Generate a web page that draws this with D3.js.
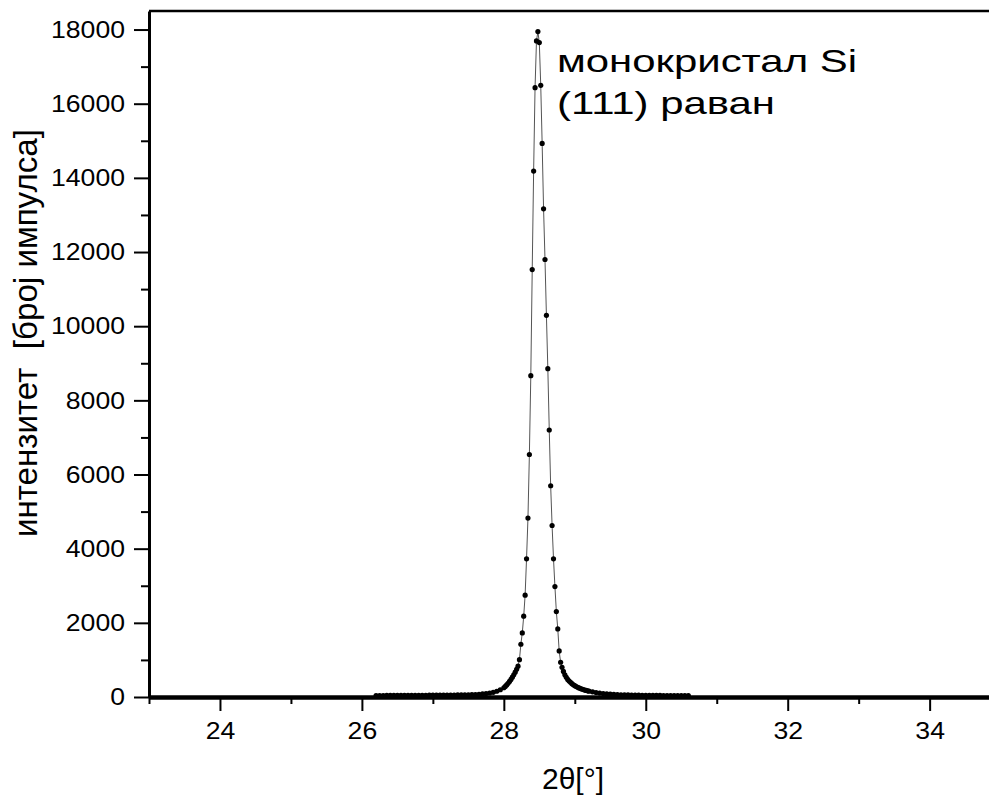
<!DOCTYPE html>
<html>
<head>
<meta charset="utf-8">
<script src="https://cdn.jsdelivr.net/npm/d3@7"></script>
<style>
  body { margin: 0; background: #fff; }
  svg { display: block; font-family: "Liberation Sans", Arial, sans-serif; }
</style>
</head>
<body>
<svg id="chart"></svg>
<script>
// Chart data
const leftTheta = [26.20, 26.25, 26.30, 26.35, 26.40, 26.45, 26.50, 26.55, 26.60, 26.65,
                   26.70, 26.75, 26.80, 26.85, 26.90, 26.95, 27.00, 27.05, 27.10, 27.15,
                   27.20, 27.25, 27.30, 27.35, 27.40, 27.45, 27.50, 27.55, 27.60, 27.65,
                   27.70, 27.75, 27.80, 27.85, 27.90, 27.95];
const leftCounts = [40, 41, 41, 42, 42, 43, 43, 44, 44, 45,
                    45, 46, 46, 47, 47, 48, 48, 49, 50, 51,
                    52, 53, 54, 55, 56, 58, 60, 63, 67, 74,
                    82, 95, 108, 127, 155, 195];

const peakTheta = [28.00, 28.02, 28.04, 28.06, 28.08, 28.10, 28.12, 28.14, 28.16, 28.18,
                   28.20, 28.22, 28.24, 28.26, 28.28, 28.30, 28.32, 28.34, 28.36, 28.38,
                   28.40, 28.42, 28.44, 28.46, 28.48, 28.50, 28.52, 28.54, 28.56, 28.58,
                   28.60, 28.62, 28.64, 28.66, 28.68, 28.70, 28.72, 28.74, 28.76, 28.78,
                   28.80, 28.82, 28.84, 28.86, 28.88, 28.90, 28.92, 28.94, 28.96, 28.98,
                   29.00, 29.02, 29.04, 29.06, 29.08, 29.10, 29.12, 29.14, 29.16, 29.18,
                   29.20];
const peakCounts = [250, 285, 325, 370, 420, 475, 535, 600, 670, 745,
                    830, 1007, 1423, 1728, 2179, 2746, 3726, 4824, 6540, 8666,
                    11528, 14182, 16433, 17692, 17945, 17648, 16495, 14930, 13166, 11798,
                    10294, 8855, 7200, 5697, 4625, 3726, 2978, 2303, 1836, 1242,
                    937, 800, 690, 600, 530, 475, 430, 395, 360, 330,
                    305, 283, 262, 244, 228, 214, 200, 188, 176, 166,
                    157];

const rightTheta = [29.25, 29.30, 29.35, 29.40, 29.45, 29.50, 29.55, 29.60, 29.65, 29.70,
                    29.75, 29.80, 29.85, 29.90, 29.95, 30.00, 30.05, 30.10, 30.15, 30.20,
                    30.25, 30.30, 30.35, 30.40, 30.45, 30.50, 30.55, 30.60];
const rightCounts = [140, 122, 106, 94, 84, 76, 70, 65, 61, 58,
                     55, 53, 51, 49, 47, 46, 45, 44, 43, 42,
                     41, 40, 40, 39, 38, 38, 37, 36];

const xMajorTicks = [24, 26, 28, 30, 32, 34];
const xMinorTicks = [23, 25, 27, 29, 31, 33, 35];
const yMajorTicks = [0, 2000, 4000, 6000, 8000, 10000, 12000, 14000, 16000, 18000];
const yMinorTicks = [1000, 3000, 5000, 7000, 9000, 11000, 13000, 15000, 17000];

const xTitle = "2θ[°]";
const yTitle = "интензитет  [број импулса]";
const noteLines = ["монокристал Si", "(111) раван"];

// Layout
const width = 989, height = 802;
const plotLeft = 149, plotTop = 11, plotBottom = 697, plotRight = 1000.6;

const svg = d3.select("#chart")
    .attr("width", width)
    .attr("height", height);

const x = d3.scaleLinear().domain([23, 35]).range([plotLeft, plotRight]);
const y = d3.scaleLinear().domain([0, 18500]).range([plotBottom, plotTop]);

// Join the segments into one series
const theta = leftTheta.concat(peakTheta, rightTheta);
const counts = leftCounts.concat(peakCounts, rightCounts);
const points = theta.map((t, i) => ({ t: t, c: counts[i] }));

// Top frame line
svg.append("line")
    .attr("x1", x(23)).attr("x2", x(35))
    .attr("y1", y(18500)).attr("y2", y(18500))
    .attr("stroke", "#000")
    .attr("stroke-width", 2.6);

// Minor ticks
svg.append("g")
    .attr("transform", `translate(0, ${plotBottom})`)
    .call(d3.axisBottom(x).tickValues(xMinorTicks).tickFormat("").tickSize(7).tickSizeOuter(0))
    .call(g => g.select(".domain").remove())
    .selectAll("line").attr("stroke-width", 2);

svg.append("g")
    .attr("transform", `translate(${plotLeft}, 0)`)
    .call(d3.axisLeft(y).tickValues(yMinorTicks).tickFormat("").tickSize(8).tickSizeOuter(0))
    .call(g => g.select(".domain").remove())
    .selectAll("line").attr("stroke-width", 2);

// Major x axis
const xAxis = svg.append("g")
    .attr("transform", `translate(0, ${plotBottom})`)
    .call(d3.axisBottom(x).tickValues(xMajorTicks).tickFormat(d3.format("d"))
        .tickSize(14).tickPadding(11).tickSizeOuter(0));
xAxis.select(".domain").attr("stroke-width", 4.5);
xAxis.selectAll(".tick line").attr("stroke-width", 2);
xAxis.selectAll(".tick text")
    .attr("fill", "#000")
    .style("font-size", "24px")
    .attr("textLength", d => String(d).length * 14.8)
    .attr("lengthAdjust", "spacingAndGlyphs");

// Major y axis
const yAxis = svg.append("g")
    .attr("transform", `translate(${plotLeft}, 0)`)
    .call(d3.axisLeft(y).tickValues(yMajorTicks).tickFormat(d3.format("d"))
        .tickSize(15).tickPadding(9).tickSizeOuter(0));
yAxis.select(".domain").attr("stroke-width", 3);
yAxis.selectAll(".tick line").attr("stroke-width", 2);
yAxis.selectAll(".tick text")
    .attr("fill", "#000")
    .style("font-size", "24px")
    .attr("textLength", d => String(d).length * 14.8)
    .attr("lengthAdjust", "spacingAndGlyphs");

// Data line and points
const line = d3.line()
    .x(d => x(d.t))
    .y(d => y(d.c));

svg.append("path")
    .datum(points)
    .attr("d", line)
    .attr("fill", "none")
    .attr("stroke", "#555")
    .attr("stroke-width", 1);

svg.append("g")
    .selectAll("circle")
    .data(points)
    .enter()
    .append("circle")
    .attr("cx", d => x(d.t))
    .attr("cy", d => y(d.c))
    .attr("r", 2.6)
    .attr("fill", "#000");

// Annotation next to the peak
svg.append("g")
    .selectAll("text")
    .data(noteLines)
    .enter()
    .append("text")
    .attr("x", 557)
    .attr("y", (d, i) => 72 + i * 42)
    .attr("fill", "#000")
    .style("font-size", "32px")
    .attr("textLength", (d, i) => i === 0 ? 300 : 218)
    .attr("lengthAdjust", "spacingAndGlyphs")
    .text(d => d);

// Axis titles
svg.append("text")
    .attr("x", 573)
    .attr("y", 789)
    .attr("text-anchor", "middle")
    .attr("fill", "#000")
    .style("font-size", "30px")
    .text(xTitle);

svg.append("text")
    .attr("transform", "translate(37, 333) rotate(-90)")
    .attr("text-anchor", "middle")
    .attr("fill", "#000")
    .style("font-size", "33px")
    .style("white-space", "pre")
    .attr("textLength", 408)
    .attr("lengthAdjust", "spacingAndGlyphs")
    .text(yTitle);
</script>
</body>
</html>
